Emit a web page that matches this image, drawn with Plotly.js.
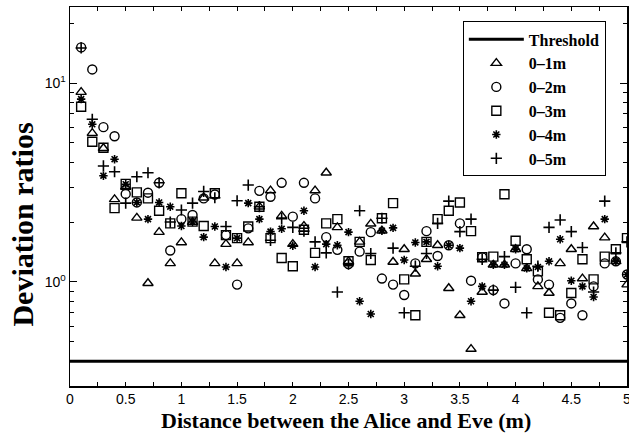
<!DOCTYPE html>
<html>
<head>
<meta charset="utf-8">
<script src="https://cdn.plot.ly/plotly-3.0.1.min.js"></script>
<style>html,body{margin:0;padding:0;background:#fff;}#chart{width:629px;height:434px;}</style>
</head>
<body>
<div id="chart"></div>
<script>
const distances = [0.1,0.2,0.3,0.4,0.5,0.6,0.7,0.8,0.9,1.0,1.1,1.2,1.3,1.4,1.5,1.6,1.7,1.8,1.9,2.0,2.1,2.2,2.3,2.4,2.5,2.6,2.7,2.8,2.9,3.0,3.1,3.2,3.3,3.4,3.5,3.6,3.7,3.8,3.9,4.0,4.1,4.2,4.3,4.4,4.5,4.6,4.7,4.8,4.9,5.0];

const range1m = [9.0,5.6,4.7,2.6,3.0,2.1,0.985,1.78,1.24,1.58,2.0,2.65,1.24,1.55,1.24,1.58,2.39,2.88,2.15,1.55,1.91,2.88,3.54,1.88,1.27,1.59,1.96,1.81,1.26,1.46,1.10,1.30,1.53,0.93,0.68,0.46,0.89,1.22,1.22,1.46,1.17,0.95,0.88,1.24,1.46,1.04,1.90,1.67,1.27,0.97];
const range2m = [15.1,11.7,6.0,5.4,2.77,2.51,2.81,3.15,1.44,2.07,2.17,2.63,2.75,1.72,0.97,1.86,2.87,2.68,3.15,2.13,3.15,2.63,1.68,1.45,1.23,1.42,1.78,1.04,0.97,0.86,1.24,1.80,1.35,1.53,1.97,1.015,1.33,0.91,0.78,1.24,1.46,1.03,0.97,0.66,0.78,0.68,0.95,1.24,1.27,1.09];
const range3m = [7.6,5.07,4.73,2.35,3.11,2.82,2.63,2.28,1.97,2.79,2.01,1.91,2.79,1.72,1.66,1.90,2.39,1.66,1.32,1.20,1.83,1.40,1.97,2.07,1.27,1.59,1.29,2.09,2.49,1.03,0.68,1.59,2.07,2.28,2.51,1.80,1.33,1.34,2.76,1.61,1.30,1.13,0.70,0.68,0.88,1.30,1.03,1.34,1.46,1.66];
const range4m = [8.3,6.2,3.42,4.14,3.1,2.51,2.07,2.51,2.39,1.91,2.0,1.68,1.90,1.19,1.66,2.49,2.07,1.79,1.85,1.52,2.28,1.19,1.55,1.53,1.78,0.80,0.69,1.81,1.87,1.29,1.58,1.59,1.20,1.53,1.48,0.80,0.95,1.22,1.22,1.46,1.17,1.19,1.27,1.64,1.015,0.95,0.84,2.07,1.27,1.09];
const range5m = [15.0,6.57,3.83,3.58,2.49,3.38,3.54,3.15,2.0,2.30,2.49,2.85,2.65,1.90,2.56,3.07,2.39,1.62,2.08,1.88,1.80,1.59,1.40,0.89,1.23,2.28,1.39,2.09,1.48,0.70,1.20,1.39,1.97,2.55,1.79,2.07,1.30,0.91,1.34,0.94,0.70,1.20,1.88,2.05,1.79,1.49,0.89,2.55,1.40,1.59];

const thresholdX = [0, 5];
const thresholdY = [0.4, 0.4];

const seriesNames = ['0\u20131m','0\u20132m','0\u20133m','0\u20134m','0\u20135m'];
const xTickVals = [0,0.5,1,1.5,2,2.5,3,3.5,4,4.5,5];
const xTickText = ['0','0.5','1','1.5','2','2.5','3','3.5','4','4.5','5'];
const yTickVals = [1, 10];
const yTickText = ['10<sup>0</sup>', '10<sup>1</sup>'];
const yMinorVals = [0.4,0.5,0.6,0.7,0.8,0.9,2,3,4,5,6,7,8,9,20];

const seriesData = [range1m, range2m, range3m, range4m, range5m];
const symbols = ['triangle-up-open','circle-open','square-open','asterisk-open','cross-thin-open'];
const sizes = [9, 9, 9, 7, 8];
const widths = [1.4, 1.4, 1.4, 1.6, 1.6];

const traces = [{
  x: thresholdX, y: thresholdY, mode: 'lines', name: 'Threshold',
  line: {color: '#000', width: 3}, legendgroup: 'g0'
}];
seriesData.forEach((vals, i) => {
  traces.push({
    x: distances, y: vals, mode: 'markers', name: seriesNames[i],
    legendgroup: 'g' + (i + 1),
    marker: {symbol: symbols[i], size: sizes[i], color: '#000', line: {color: '#000', width: widths[i]}}
  });
});

const tickFont = {family: 'Liberation Sans, Arial, sans-serif', size: 14, color: '#000'};
const serif = 'Liberation Serif, Times New Roman, serif';

const layout = {
  width: 629, height: 434,
  margin: {l: 70, r: 2, t: 7, b: 48},
  paper_bgcolor: '#fff', plot_bgcolor: '#fff',
  showlegend: true,
  xaxis: {
    range: [0, 5], tickvals: xTickVals, ticktext: xTickText,
    ticks: 'inside', ticklen: 4, tickcolor: '#000', tickwidth: 1,
    minor: {ticks: 'inside', ticklen: 4, dtick: 0.25, tickcolor: '#000'},
    showline: true, linecolor: '#000', linewidth: 1.5, mirror: 'ticks',
    showgrid: false, zeroline: false, tickfont: tickFont,
    ticklabeloverflow: 'allow'
  },
  yaxis: {
    type: 'log', range: [-0.5229, 1.382],
    tickvals: yTickVals, ticktext: yTickText,
    ticks: 'inside', ticklen: 7, tickcolor: '#000', tickwidth: 1,
    minor: {ticks: 'inside', ticklen: 4, tickvals: yMinorVals, tickcolor: '#000'},
    showline: true, linecolor: '#000', linewidth: 1.5, mirror: 'ticks',
    showgrid: false, zeroline: false, tickfont: tickFont
  },
  annotations: [{
    text: 'Deviation ratios', textangle: -90, showarrow: false,
    xref: 'paper', yref: 'paper', x: -0.085, y: 0.425, xanchor: 'center', yanchor: 'middle',
    font: {family: serif, size: 30, color: '#000', weight: 'bold'}
  }, {
    text: 'Distance between the Alice and Eve (m)', showarrow: false,
    xref: 'paper', yref: 'paper', x: 0.496, y: -0.052, xanchor: 'center', yanchor: 'top',
    font: {family: serif, size: 22, color: '#000', weight: 'bold'}
  }],
  legend: {
    x: 0.962, y: 0.962, xanchor: 'right', yanchor: 'top',
    bordercolor: '#000', borderwidth: 1, bgcolor: '#fff',
    font: {family: serif, size: 16, color: '#000', weight: 'bold'},
    tracegroupgap: 0, itemwidth: 55
  }
};

Plotly.newPlot('chart', traces, layout, {displayModeBar: false, staticPlot: true});
</script>
</body>
</html>
